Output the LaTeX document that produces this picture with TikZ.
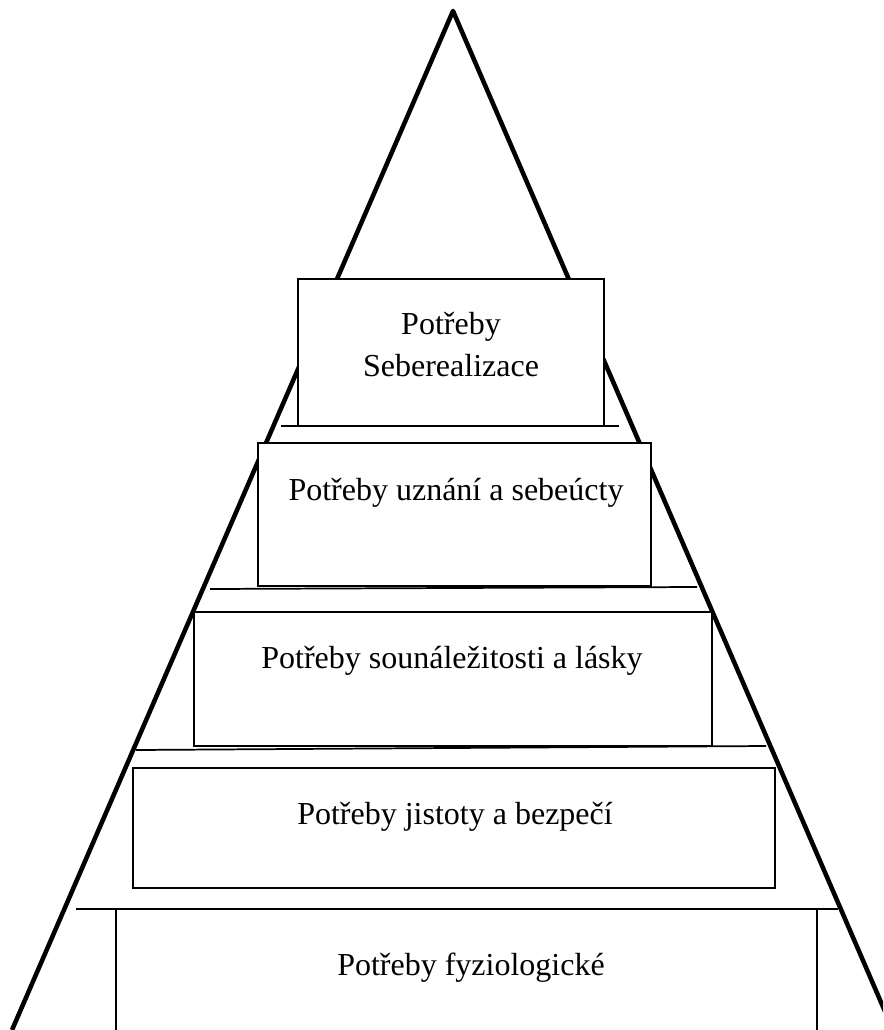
\documentclass[tikz,border=0pt]{standalone}
\usepackage{fontspec}
\setmainfont{Liberation Serif}
\usetikzlibrary{fit}
\begin{document}
\begin{tikzpicture}[x=0.75pt,y=-0.75pt,
  edge/.style={line width=3.4pt,line join=round},
  box/.style={draw,fill=white,line width=1pt,inner sep=0pt},
  sep/.style={line width=1.3pt},
  lbl/.style={font=\fontsize{24}{31.5}\selectfont,inner sep=0pt,anchor=base},
  lbl2/.style={font=\fontsize{24}{31.5}\selectfont,inner sep=0pt,align=center}]
\useasboundingbox (0,0) rectangle (883,1030);
\clip (0,0) rectangle (883,1030);
% pyramid outline
\coordinate (apex) at (453,11);
\coordinate (bl) at (12,1030);
\coordinate (br) at (893,1030);
\draw[edge] (bl) -- (apex) -- (br);
% boxes
\node[box,fit={(298,279)(604,426)}] (b1) {};
\node[box,fit={(258,443)(651,586)}] (b2) {};
\node[box,fit={(194,612)(712,746)}] (b3) {};
\node[box,fit={(133,768)(775,888)}] (b4) {};
\node[box,fit={(116,909)(817,1045)}] (b5) {};
% separator lines
\coordinate (s1l) at (281,426); \coordinate (s1r) at (619,426);
\coordinate (s2l) at (210,589); \coordinate (s2r) at (697,587);
\coordinate (s3l) at (136,750); \coordinate (s3r) at (766,746);
\coordinate (s4l) at (76,909);  \coordinate (s4r) at (838,909);
\draw[sep] (s1l) -- (s1r);
\draw[sep] (s2l) -- (s2r);
\draw[sep] (s3l) -- (s3r);
\draw[sep] (s4l) -- (s4r);
% labels
\node[lbl2] (t1) at (451,345) {Potřeby\\Seberealizace};
\node[lbl] (t2) at (456,500) {Potřeby uznání a sebeúcty};
\node[lbl] (t3) at (452,668) {Potřeby sounáležitosti a lásky};
\node[lbl] (t4) at (455,824) {Potřeby jistoty a bezpečí};
\node[lbl] (t5) at (471,975) {Potřeby fyziologické};
\end{tikzpicture}
\end{document}
